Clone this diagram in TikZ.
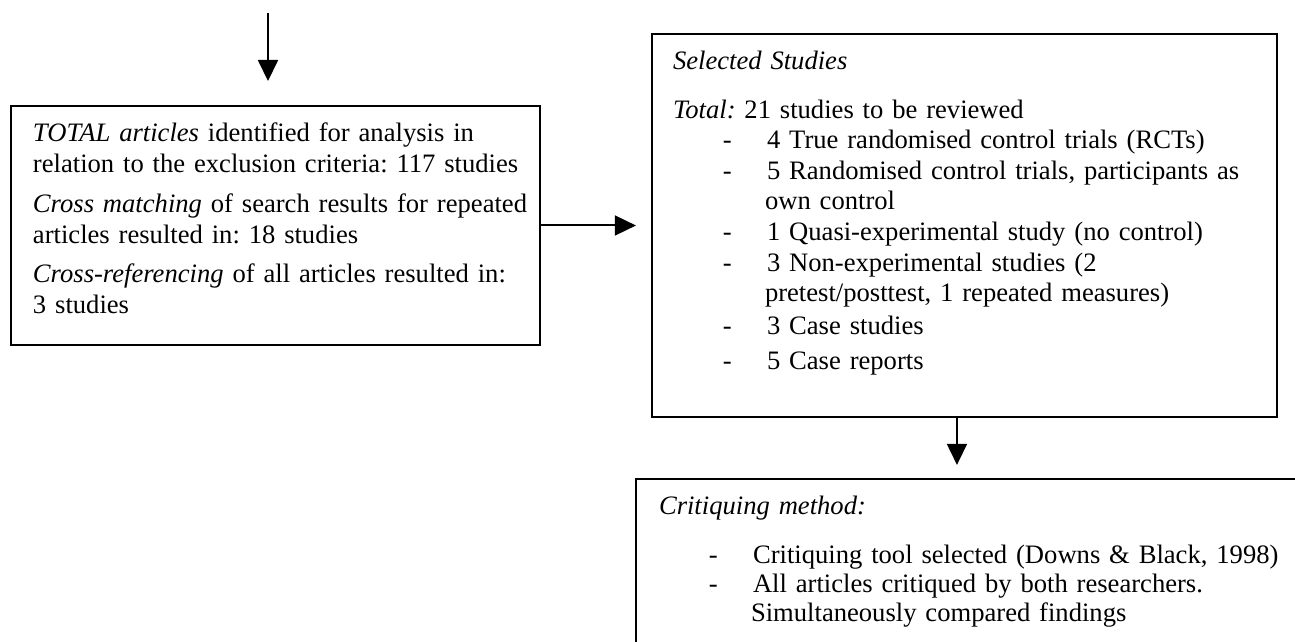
\documentclass[tikz,border=0pt]{standalone}
\usepackage{fontspec}
\setmainfont{Liberation Serif}
\usetikzlibrary{arrows.meta,fit}
\frenchspacing

\newcommand{\dashitem}[1]{\hspace*{22.5pt}\makebox[19.9pt][l]{-}#1}
\newcommand{\contline}[1]{\hspace*{41.5pt}#1}

\tikzset{
  box/.style={draw, line width=0.9pt, inner sep=0pt},
  boxtext/.style={anchor=north west, inner sep=0pt, text width=#1, align=left},
  boxtext/.default=290pt,
}

\begin{document}
\begin{tikzpicture}[x=0.451pt, y=-0.451pt, line width=0.9pt, >={Triangle[length=9.5pt,width=9pt]}]
  \useasboundingbox (0,0) rectangle (1295,642);
  \clip (0,0) rectangle (1295,642);

  % 1. boxes
  \node[box, fit={(11,106) (540,345)}] (total) {};
  \node[box, fit={(652,34) (1277,417)}] (selected) {};
  \node[box, fit={(636,479) (1330,700)}] (critique) {};

  % 2. box texts
  \node[boxtext=260pt, font=\fontsize{12}{14}\selectfont\frenchspacing] (totaltext) at (32,119) {%
    \strut\textit{TOTAL articles} identified for analysis in\\
    relation to the exclusion criteria: 117 studies\\[3.8pt]
    \textit{Cross matching} of search results for repeated\\
    articles resulted in: 18 studies\\[3.8pt]
    \textit{Cross-referencing} of all articles resulted in:\\
    3 studies};

  \node[boxtext, font=\fontsize{12}{13.8}\selectfont\frenchspacing] (selectedtext) at (672,46.6) {%
    \strut\textit{Selected Studies}\\[8.3pt]
    \textit{Total:} 21 studies to be reviewed\\
    \dashitem{4 True randomised control trials (RCTs)}\\
    \dashitem{5 Randomised control trials, participants as}\\
    \contline{own control}\\
    \dashitem{1 Quasi-experimental study (no control)}\\
    \dashitem{3 Non-experimental studies (2}\\
    \contline{pretest/posttest, 1 repeated measures)}\\[1.1pt]
    \dashitem{3 Case studies}\\[2pt]
    \dashitem{5 Case reports}};

  \node[boxtext=300pt, font=\fontsize{12}{13.1}\selectfont\frenchspacing] (critiquetext) at (658,492.7) {%
    \strut\textit{Critiquing method:}\\[9pt]
    \dashitem{Critiquing tool selected (Downs \& Black, 1998)}\\
    \dashitem{All articles critiqued by both researchers.}\\
    \contline{Simultaneously compared findings}};

  % 3. arrows
  \coordinate (search) at (268,13);
  \draw[->, shorten >=10.8pt] (search) -- (search |- total.north);
  \draw[->, shorten >=6.8pt] (total.east) -- (total.east -| selected.west);
  \coordinate (downstart) at ([xshift=-3.4pt]selected.south);
  \draw[->, shorten >=5.9pt] (downstart) -- (downstart |- critique.north);
\end{tikzpicture}
\end{document}
